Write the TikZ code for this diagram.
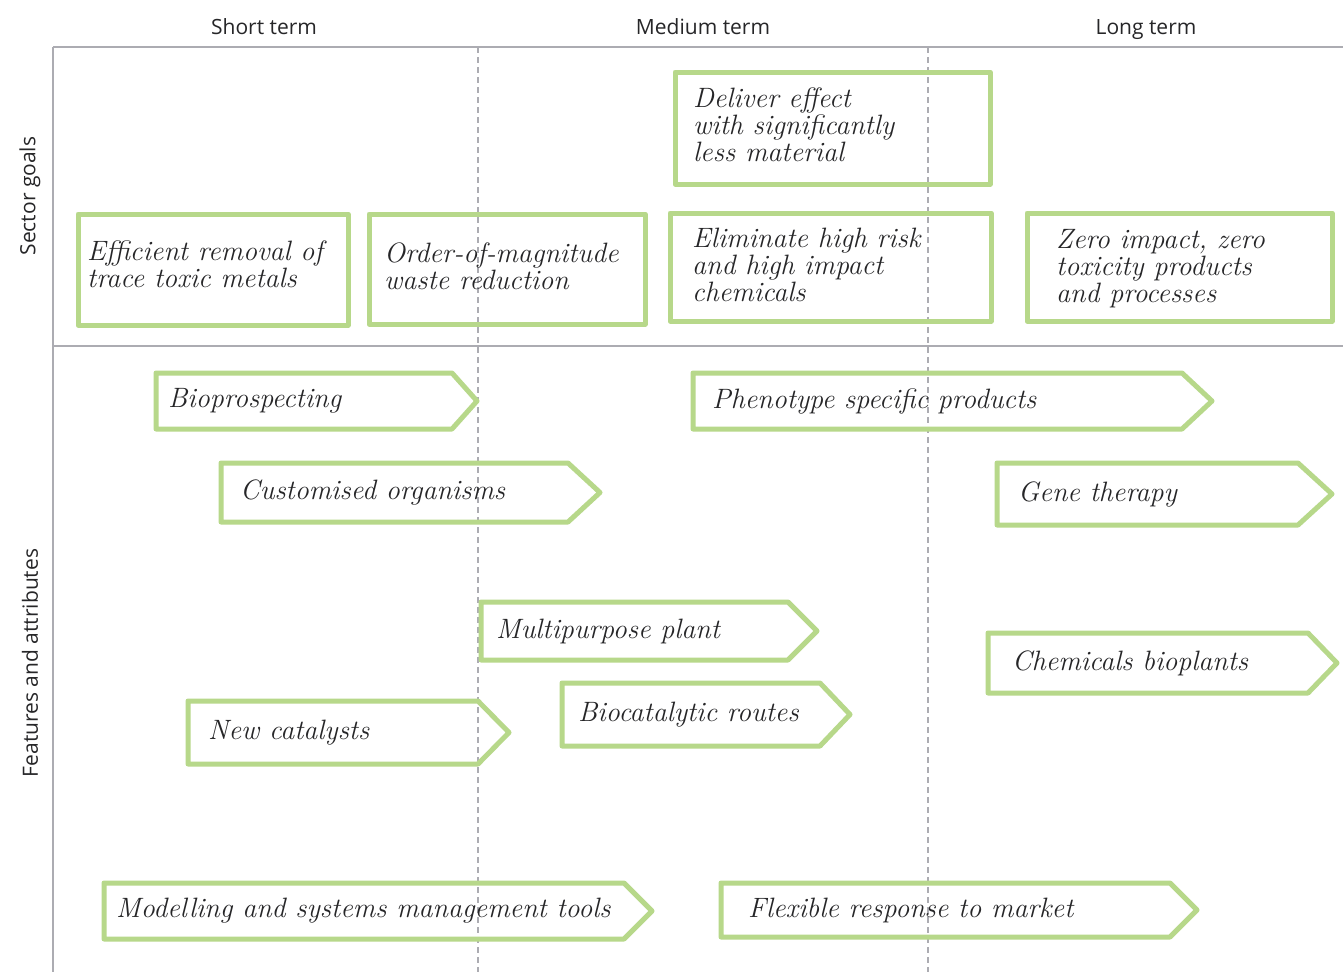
\documentclass[tikz,border=0pt]{standalone}
\usepackage{fontspec}
\newfontfamily\headfont{Open Sans}
\definecolor{chalk}{RGB}{183,216,138}
\definecolor{rulegray}{RGB}{172,172,178}
\definecolor{ink}{RGB}{38,38,40}
\tikzset{
  chalkline/.style={draw=chalk, line width=5pt, line join=round, line cap=round},
  hand/.style={font=\fontsize{28}{27}\selectfont\itshape, text=ink, align=left, inner sep=0pt, anchor=west},
  head/.style={font=\headfont\fontsize{21}{24}\selectfont, text=ink},
  gridline/.style={draw=rulegray, line width=1.6pt},
  divider/.style={draw=rulegray, line width=1.3pt, dash pattern=on 6pt off 4pt},
}
\newcommand{\goalbox}[8]{% name, left, top, right, bottom, text x, text y, text
  \draw[chalkline] (#2,#3) rectangle (#4,#5);
  \node[hand] (#1) at (#6,#7) {#8};}
\newcommand{\chalkarrow}[8]{% name, left, top, body right, tip, bottom, text x, text
  \draw[chalkline] (#2,#3) -- (#4,#3) -- (#5,{(#3+#6)/2}) -- (#4,#6) -- (#2,#6) -- cycle;
  \node[hand] (#1) at (#7,{(#3+#6)/2}) {#8};}
\begin{document}
\begin{tikzpicture}[x=1pt,y=-1pt]
\useasboundingbox[fill=white] (0,0) rectangle (1343,972);
% column headers
\node[head, anchor=base] (st) at (264,34) {Short term};
\node[head, anchor=base] (mt) at (703,34) {Medium term};
\node[head, anchor=base] (lt) at (1146,34) {Long term};
\node[head, rotate=90] (sg) at (30,196) {Sector goals};
\node[head, rotate=90] (fa) at (30,663) {Features and attributes};
% grid
\draw[divider] (478,47) -- (478,972);
\draw[divider] (928,47) -- (928,972);
\draw[gridline] (53,47) -- (1343,47);
\draw[gridline] (53,47) -- (53,972);
\draw[gridline] (53,346) -- (1343,346);
% sector goals
\goalbox{g0}{675}{72}{990}{184}{693}{125}{Deliver effect\\with significantly\\less material}
\goalbox{g1}{78}{214}{348}{325}{87}{264}{Efficient removal of\\trace toxic metals}
\goalbox{g2}{369}{214}{645}{324}{384}{266}{Order-of-magnitude\\waste reduction}
\goalbox{g3}{670}{213}{991}{321}{692}{265}{Eliminate high risk\\and high impact\\chemicals}
\goalbox{g4}{1027}{213}{1332}{321}{1056}{269}{Zero impact, zero\\toxicity products\\and processes}
% features and attributes
\chalkarrow{a1}{156}{373}{452}{477}{429}{168}{Bioprospecting}
\chalkarrow{a2}{693}{373}{1182}{1212}{429}{712}{Phenotype specific products}
\chalkarrow{a3}{221}{463}{568}{600}{522}{240}{Customised organisms}
\chalkarrow{a4}{997}{463}{1298}{1332}{525}{1018}{Gene therapy}
\chalkarrow{a5}{481}{602}{788}{817}{660}{496}{Multipurpose plant}
\chalkarrow{a6}{988}{633}{1308}{1337}{693}{1012}{Chemicals bioplants}
\chalkarrow{a7}{188}{701}{478}{509}{764}{208}{New catalysts}
\chalkarrow{a8}{562}{683}{820}{850}{746}{578}{Biocatalytic routes}
\chalkarrow{a9}{104}{883}{624}{652}{939}{116}{Modelling and systems management tools}
\chalkarrow{a10}{721}{883}{1170}{1197}{937}{748}{Flexible response to market}
\end{tikzpicture}
\end{document}
